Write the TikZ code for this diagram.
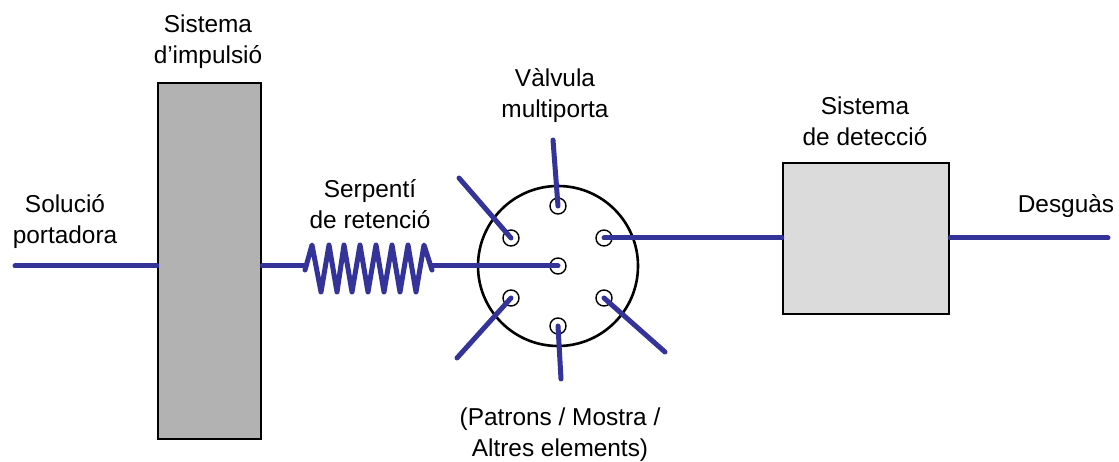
\documentclass[tikz,border=0pt]{standalone}
\usepackage{fontspec}
\setmainfont{Liberation Sans}
\definecolor{tubeblue}{RGB}{51,51,153}
\tikzset{
	labeltext/.style={align=center, inner sep=0pt, font=\fontsize{24.4}{31}\selectfont},
	tube/.style={draw=tubeblue, line width=5pt, line cap=round, line join=round},
	port/.style={circle, draw=black, line width=1.4pt, fill=white, minimum size=16pt, inner sep=0pt},
	unit/.style={draw=black, line width=2.4pt, inner sep=0pt}
}
\begin{document}
\begin{tikzpicture}[x=1pt, y=-1pt]
		\useasboundingbox (0,0) rectangle (1119,462);
		% units
		\node[unit, fill=black!30, minimum width=103pt, minimum height=356pt] (impulsio) at (209.5,261) {};
		\node[unit, fill=black!14, minimum width=166pt, minimum height=151pt] (detector) at (866,238.5) {};
		\node[circle, draw=black, line width=2.6pt, fill=white, minimum size=160pt, inner sep=0pt] (valve) at (558,266) {};
		% ports
		\node[port] (pcentre) at (558,266) {};
		\node[port] (ptop) at (558,206) {};
		\node[port] (pupleft) at (511,238) {};
		\node[port] (pupright) at (604,238) {};
		\node[port] (pdownleft) at (511,298) {};
		\node[port] (pdownright) at (604,298) {};
		\node[port] (pbottom) at (558,326) {};
		% free ends
		\coordinate (inlet) at (15,266);
		\coordinate (outlet) at (1108,238);
		\coordinate (coilin) at (305,270);
		\coordinate (coilout) at (432,270);
		\coordinate (endtop) at (553,140);
		\coordinate (endupleft) at (459,178);
		\coordinate (enddownleft) at (457,358);
		\coordinate (enddownright) at (665,352);
		\coordinate (endbottom) at (561,379);
		% tubes
		\draw[tube] (inlet) -- (impulsio.west |- inlet);
		\draw[tube] (impulsio.east |- inlet) -- (305,266);
		\draw[tube] (coilin) -- (312,245) -- (321,292) -- (329,245) -- (337,292) -- (344,245) -- (352,292) -- (360,245) -- (368,292) -- (376,245) -- (384,292) -- (392,245) -- (400,292) -- (408,245) -- (416,292) -- (424,245) -- (coilout);
		\draw[tube] (432,266) -- (pcentre.center);
		\draw[tube] (pupright.center) -- (detector.west |- pupright);
		\draw[tube] (detector.east |- outlet) -- (outlet);
		\draw[tube] (endtop) -- (ptop.center);
		\draw[tube] (endupleft) -- (pupleft.center);
		\draw[tube] (enddownleft) -- (pdownleft.center);
		\draw[tube] (enddownright) -- (pdownright.center);
		\draw[tube] (endbottom) -- (pbottom.center);
		% texts
		\node[labeltext] (solucio) at (65,222) {Solució\\portadora};
		\node[labeltext] (impulsiotext) at (208,42) {Sistema\\d’impulsió};
		\node[labeltext] (serpenti) at (370,204) {Serpentí\\de retenció};
		\node[labeltext] (valvetext) at (555,96) {Vàlvula\\multiporta};
		\node[labeltext] (detectortext) at (865,121) {Sistema\\de detecció};
		\node[labeltext] (desguas) at (1066,206) {Desguàs};
		\node[labeltext] (patrons) at (560,435) {(Patrons / Mostra /\\Altres elements)};
		\end{tikzpicture}
\end{document}
